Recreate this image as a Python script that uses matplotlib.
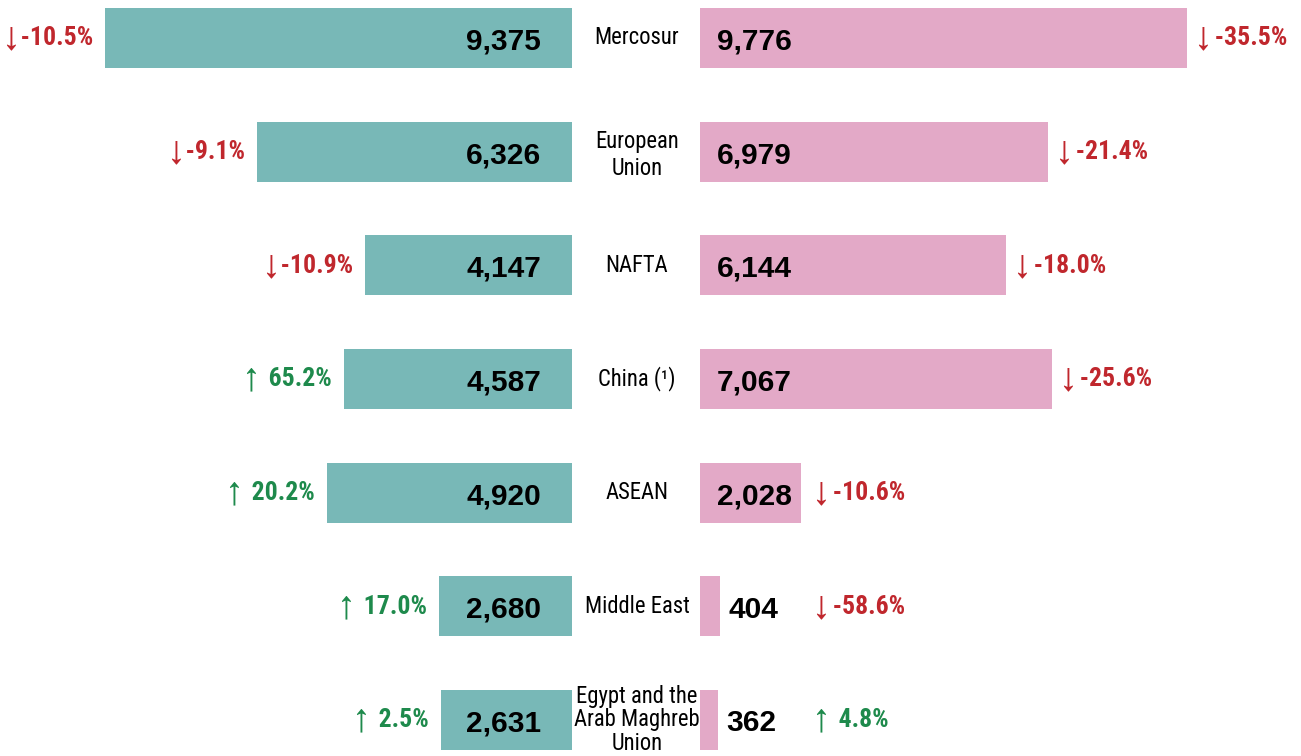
import matplotlib.pyplot as plt
from matplotlib.transforms import blended_transform_factory

regions = ['Mercosur', 'European\nUnion', 'NAFTA', 'China (\u00b9)', 'ASEAN',
           'Middle East', 'Egypt and the\nArab Maghreb\nUnion']
left_values = [9375, 6326, 4147, 4587, 4920, 2680, 2631]
left_change = [-10.5, -9.1, -10.9, 65.2, 20.2, 17.0, 2.5]
right_values = [9776, 6979, 6144, 7067, 2028, 404, 362]
right_change = [-35.5, -21.4, -18.0, -25.6, -10.6, -58.6, 4.8]

teal = '#78b8b7'
pink = '#e3a9c7'
red = '#c0272d'
green = '#1e8a4c'

narrow = ['Roboto Condensed', 'Archivo Narrow', 'Liberation Sans', 'DejaVu Sans']
wide = ['Liberation Sans', 'DejaVu Sans']


def pct_label(v, gap=''):
    if v < 0:
        return '\u2193' + gap + '-%.1f%%' % abs(v), red
    return '\u2191\u2009 %.1f%%' % v, green


fig = plt.figure(figsize=(13.01, 7.56), dpi=100)
W = 1301.0
px = 0.0498  # pixels per unit

axL = fig.add_axes([0, 0, 572 / W, 1])
axR = fig.add_axes([700 / W, 0, 601 / W, 1])

rows = list(range(len(regions)))
for ax in (axL, axR):
    ax.set_ylim(6.317, -0.334)
    ax.axis('off')
axL.set_xlim(572 / px, 0)
axR.set_xlim(0, 601 / px)

axL.barh(rows, left_values, height=0.53, color=teal)
axR.barh(rows, right_values, height=0.53, color=pink)

dy = 0.03
for i in rows:
    # left side
    axL.text(31 / px, i + dy, format(left_values[i], ','), ha='right', va='center',
             fontsize=21.5, fontweight='bold', family=wide)
    s, c = pct_label(left_change[i], '\u200a')
    axL.text(left_values[i] + 12 / px, i, s, ha='right', va='center',
             fontsize=18.5, fontweight='bold', color=c, family=narrow)

    # right side
    if right_values[i] > 1500:
        xv = 17 / px
    else:
        xv = right_values[i] + 8 / px
    axR.text(xv, i + dy, format(right_values[i], ','), ha='left', va='center',
             fontsize=21.5, fontweight='bold', family=wide)
    s, c = pct_label(right_change[i], '\u2009')
    xp = max(right_values[i] + 10 / px, 115 / px)
    axR.text(xp, i, s, ha='left', va='center',
             fontsize=18.5, fontweight='bold', color=c, family=narrow)

# centre labels
tr = blended_transform_factory(fig.transFigure, axL.transData)
for i in rows:
    nl = regions[i].count('\n')
    off = 0.03 if nl == 1 else 0.0
    ls = 1.2 if nl == 1 else 1.02
    fig.text(637 / W, i + off, regions[i], ha='center', va='center', transform=tr,
             fontsize=16.3, family=narrow, linespacing=ls)

plt.savefig('out.png', dpi=100)
